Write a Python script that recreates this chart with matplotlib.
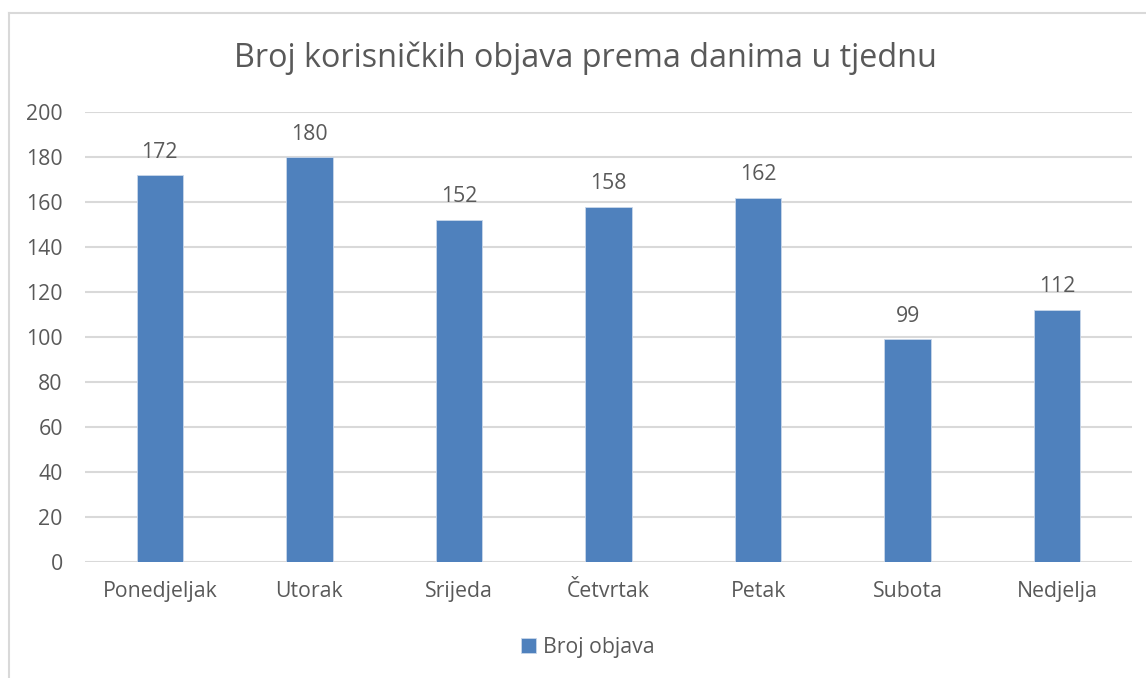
import matplotlib.pyplot as plt
from matplotlib.lines import Line2D

# data
days = ["Ponedjeljak", "Utorak", "Srijeda", "Četvrtak", "Petak", "Subota", "Nedjelja"]
posts = [172, 180, 152, 158, 162, 99, 112]
yticks = [0, 20, 40, 60, 80, 100, 120, 140, 160, 180, 200]

plt.rcParams['font.family'] = ['Open Sans', 'DejaVu Sans']
txt = '#595959'
grid = '#D9D9D9'
bar_col = '#4F81BD'
fs = 15.3

fig = plt.figure(figsize=(11.46, 6.78), dpi=100)
ax = fig.add_axes([85 / 1146, 1 - 562 / 678, (1132 - 85) / 1146, (562 - 112) / 678])

x = range(len(days))
bars = ax.bar(x, posts, width=0.31, color=bar_col, edgecolor='#C9D7EA', linewidth=0.6,
              label='Broj objava', zorder=3)
for xi, v in zip(x, posts):
    ax.annotate(str(v), (xi, v), xytext=(0, 9), textcoords='offset points',
                ha='center', va='bottom', fontsize=fs, color=txt)

ax.set_ylim(0, 200)
ax.set_xlim(-0.5, len(days) - 0.5)
ax.set_yticks(yticks)
ax.set_xticks(list(x))
ax.set_xticklabels(days)
ax.tick_params(axis='both', length=0, labelsize=fs, labelcolor=txt)
ax.tick_params(axis='y', pad=16)
ax.tick_params(axis='x', pad=14)
ax.yaxis.grid(True, color=grid, linewidth=1.5, zorder=0)
for s in ax.spines.values():
    s.set_visible(False)

fig.text(585 / 1146, 1 - 58 / 678, "Broj korisničkih objava prema danima u tjednu",
         ha='center', va='center', fontsize=23.3, color=txt)

leg = fig.legend(handles=[bars], labels=['Broj objava'], loc='center',
                 bbox_to_anchor=(588 / 1146, 1 - 647 / 678), frameon=False,
                 fontsize=fs, handlelength=0.7, handleheight=0.7, handletextpad=0.35)
for t in leg.get_texts():
    t.set_color(txt)

# chart frame (only top and left edges visible)
fig.add_artist(Line2D([9 / 1146, 9 / 1146], [0, 1 - 13 / 678], transform=fig.transFigure,
                      color=grid, linewidth=1.5))
fig.add_artist(Line2D([9 / 1146, 1], [1 - 13 / 678, 1 - 13 / 678], transform=fig.transFigure,
                      color=grid, linewidth=1.5))

fig.savefig("out.png", dpi=100)
